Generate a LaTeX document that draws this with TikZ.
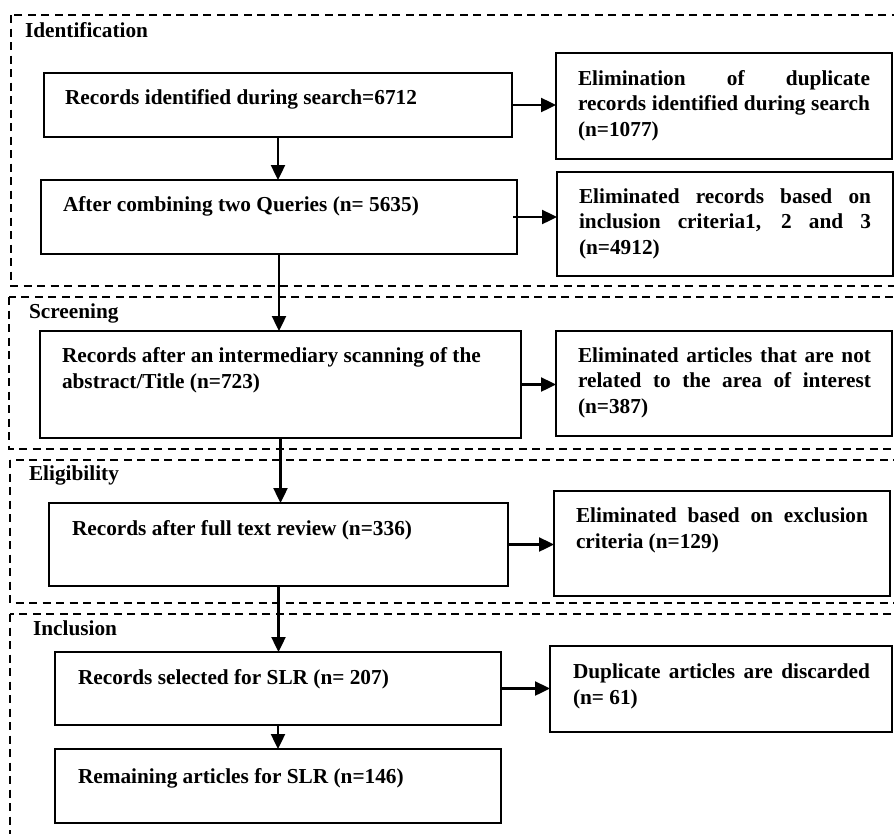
\documentclass[tikz,border=0pt]{standalone}
\usepackage{fontspec}
\setmainfont{Liberation Serif}
\usetikzlibrary{arrows.meta}
% one justified line of a given width
\newcommand{\jline}[2]{\makebox[#1][s]{#2}}

\begin{document}
\begin{tikzpicture}[x=1pt, y=-1pt,
  every node/.style={inner sep=0pt, outer sep=0pt},
  txt/.style={font=\bfseries\fontsize{21.3}{25.5}\selectfont, align=left, anchor=base west},
  box/.style={draw, line width=2.4pt, anchor=north west},
  frame/.style={draw, line width=2.2pt, dash pattern=on 8pt off 5.5pt},
  arr/.style={line width=2.4pt, -{Triangle[length=15pt, width=14pt]}}
]
\useasboundingbox (0,0) rectangle (894,833);
\clip (0,0) rectangle (894,833);

% phase frames (open to the right)
\draw[frame] (11,15) rectangle (920,286);
\draw[frame] (9,297) rectangle (920,449);
\draw[frame] (10,460) rectangle (920,603);
\draw[frame] (10,614) rectangle (920,860);

\node[txt] (lid) at (25,37) {Identification};
\node[txt] (lsc) at (29,318) {Screening};
\node[txt] (lel) at (29,480) {Eligibility};
\node[txt] (lin) at (33,635) {Inclusion};

% main column
\node[box, minimum width=468pt, minimum height=64pt]  (b1) at (44,73)  {};
\node[box, minimum width=476pt, minimum height=74pt]  (b2) at (41,180) {};
\node[box, minimum width=481pt, minimum height=107pt] (b3) at (40,331) {};
\node[box, minimum width=459pt, minimum height=83pt]  (b4) at (49,503) {};
\node[box, minimum width=446pt, minimum height=73pt]  (b5) at (55,652) {};
\node[box, minimum width=446pt, minimum height=74pt]  (b6) at (55,749) {};

% text nodes are placed by the baseline of their last line
\node[txt] (t1) at (65,104) {Records identified during search=6712};
\node[txt] (t2) at (63,211) {After combining two Queries (n= 5635)};
\node[txt] (t3) at (62,388) {Records after an intermediary scanning of the\\abstract/Title (n=723)};
\node[txt] (t4) at (72,535) {Records after full text review (n=336)};
\node[txt] (t5) at (78,684) {Records selected for SLR (n= 207)};
\node[txt] (t6) at (78,783) {Remaining articles for SLR (n=146)};

% excluded records
\node[box, minimum width=336pt, minimum height=106pt] (r1) at (556,53)  {};
\node[box, minimum width=336pt, minimum height=104pt] (r2) at (557,172) {};
\node[box, minimum width=336pt, minimum height=105pt] (r3) at (556,331) {};
\node[box, minimum width=336pt, minimum height=105pt] (r4) at (554,491) {};
\node[box, minimum width=342pt, minimum height=86pt]  (r5) at (550,646) {};

\node[txt] (s1) at (578,136) {\jline{292pt}{Elimination of duplicate}\\\jline{292pt}{records identified during search}\\(n=1077)};
\node[txt] (s2) at (579,254) {\jline{292pt}{Eliminated records based on}\\\jline{292pt}{inclusion criteria1, 2 and 3}\\(n=4912)};
\node[txt] (s3) at (578,413) {\jline{293pt}{Eliminated articles that are not}\\\jline{293pt}{related to the area of interest}\\(n=387)};
\node[txt] (s4) at (576,548) {\jline{292pt}{Eliminated based on exclusion}\\criteria (n=129)};
\node[txt] (s5) at (573,704) {\jline{297pt}{Duplicate articles are discarded}\\(n= 61)};

% flow
\draw[arr] (b1.south) -- (b1.south |- b2.north);
\draw[arr] (b2.south) -- (b2.south |- b3.north);
\draw[arr] (b3.south) -- (b3.south |- b4.north);
\draw[arr] (b4.south) -- (b4.south |- b5.north);
\draw[arr] (b5.south) -- (b5.south |- b6.north);

\draw[arr] (b1.east) -- (b1.east -| r1.west);
\draw[arr] ([xshift=-4pt]b2.east) -- (b2.east -| r2.west);
\draw[arr] (b3.east) -- (b3.east -| r3.west);
\draw[arr] (b4.east) -- (b4.east -| r4.west);
\draw[arr] (b5.east) -- (b5.east -| r5.west);
\end{tikzpicture}
\end{document}
